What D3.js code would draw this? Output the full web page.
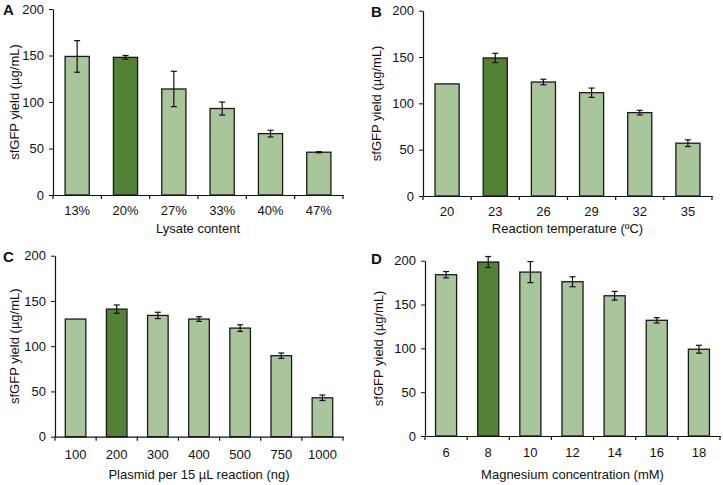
<!DOCTYPE html>
<html><head><meta charset="utf-8">
<script src="https://cdn.jsdelivr.net/npm/d3@7"></script>
<style>body{margin:0;background:#fff}svg{display:block;font-family:"Liberation Sans",Arial,sans-serif}</style>
</head><body><svg id="c" width="723" height="485"></svg>
<script>
// Panel A: lysate content
const catsA = ["13%","20%","27%","33%","40%","47%"];
const valsA = [149,148,114,93,66,46];
const errA  = [17,2,19,7,3.6,0.6];
// Panel B: reaction temperature
const catsB = ["20","23","26","29","32","35"];
const valsB = [121,149,123,111.5,90,57];
const errB  = [0,5,3,5,2.5,3.6];
// Panel C: plasmid
const catsC = ["100","200","300","400","500","750","1000"];
const valsC = [130,141,134,130,120,89.5,43];
const errC  = [0,4.6,3.5,2.6,3.7,3,3];
// Panel D: magnesium
const catsD = ["6","8","10","12","14","16","18"];
const valsD = [184,198.5,187,176,160,132,99];
const errD  = [3.6,6.3,12,5.7,5,3,4.5];
const highlight = {A:"20%",B:"23",C:"200",D:"8"};
const yTicks = [0,50,100,150,200];

const panels = [
 {id:"A",cats:catsA,vals:valsA,err:errA,x0:53,x1:343,yT:9,yB:195,title:"Lysate content",tY:233,pad:11,lx:3,ly:15,ytx:14},
 {id:"B",cats:catsB,vals:valsB,err:errB,x0:423,x1:712,yT:10.7,yB:196,title:"Reaction temperature (ºC)",tY:233,pad:11,lx:371,ly:17,ytx:376},
 {id:"C",cats:catsC,vals:valsC,err:errC,x0:55,x1:343,yT:255.7,yB:436.7,title:"Plasmid per 15 µL reaction (ng)",tY:479,pad:13,lx:3,ly:262,ytx:14},
 {id:"D",cats:catsD,vals:valsD,err:errD,x0:425,x1:720,yT:260.7,yB:436,title:"Magnesium concentration (mM)",tY:479,pad:12,lx:371,ly:264,ytx:378}
];
const svg = d3.select("#c");
const light="#a9c59b", dark="#538135";
panels.forEach(p=>{
  const g = svg.append("g");
  const x = d3.scaleBand().domain(p.cats).range([p.x0,p.x1]).paddingInner(0.5).paddingOuter(0.25);
  const y = d3.scaleLinear().domain([0,200]).range([p.yB,p.yT]);
  g.selectAll("rect").data(p.cats).join("rect")
    .attr("x",d=>x(d)).attr("width",x.bandwidth())
    .attr("y",(d,i)=>y(p.vals[i])).attr("height",(d,i)=>y(0)-y(p.vals[i]))
    .attr("fill",d=>d===highlight[p.id]?dark:light).attr("stroke","#1a1a1a").attr("stroke-width",1.3);
  p.cats.forEach((c,i)=>{
    if(!p.err[i]) return;
    const cx = x(c)+x.bandwidth()/2, hi=y(p.vals[i]+p.err[i]), lo=y(p.vals[i]-p.err[i]);
    g.append("line").attr("x1",cx).attr("x2",cx).attr("y1",hi).attr("y2",lo).attr("stroke","#111").attr("stroke-width",1.2);
    [hi,lo].forEach(yy=>g.append("line").attr("x1",cx-3).attr("x2",cx+3).attr("y1",yy).attr("y2",yy).attr("stroke","#111").attr("stroke-width",1.2));
  });
  const ya = g.append("g").attr("transform",`translate(${p.x0},0)`)
    .call(d3.axisLeft(y).tickValues(yTicks).tickSize(4).tickPadding(5).tickSizeOuter(0));
  ya.select(".domain").attr("stroke","#111").attr("stroke-width",1.2);
  ya.selectAll(".tick line").attr("stroke","#111");
  ya.selectAll("text").attr("font-size",13).attr("fill","#111").attr("font-family","Liberation Sans, Arial, sans-serif");
  const xa = g.append("g").attr("transform",`translate(0,${p.yB})`)
    .call(d3.axisBottom(x).tickSize(0).tickPadding(p.pad));
  xa.select(".domain").attr("stroke","#111").attr("stroke-width",1.2);
  xa.selectAll("text").attr("font-size",13).attr("fill","#111").attr("font-family","Liberation Sans, Arial, sans-serif");
  const bounds = d3.range(p.cats.length+1).map(i=>p.x0+i*(p.x1-p.x0)/p.cats.length);
  g.selectAll("line.bt").data(bounds).join("line").attr("class","bt")
    .attr("x1",d=>d).attr("x2",d=>d).attr("y1",p.yB).attr("y2",p.yB+4).attr("stroke","#111").attr("stroke-width",1.2);
  g.append("text").attr("x",(p.x0+p.x1)/2).attr("y",p.tY).attr("text-anchor","middle")
    .attr("font-size",13).attr("fill","#111").text(p.title);
  g.append("text").attr("transform",`translate(${p.ytx},${(p.yT+p.yB)/2}) rotate(-90)`)
    .attr("text-anchor","middle").attr("dy","0.35em").attr("font-size",13).attr("fill","#111").text("sfGFP yield (µg/mL)");
  g.append("text").attr("x",p.lx).attr("y",p.ly).attr("font-size",15).attr("font-weight","bold").attr("fill","#111").text(p.id);
});
</script></body></html>
